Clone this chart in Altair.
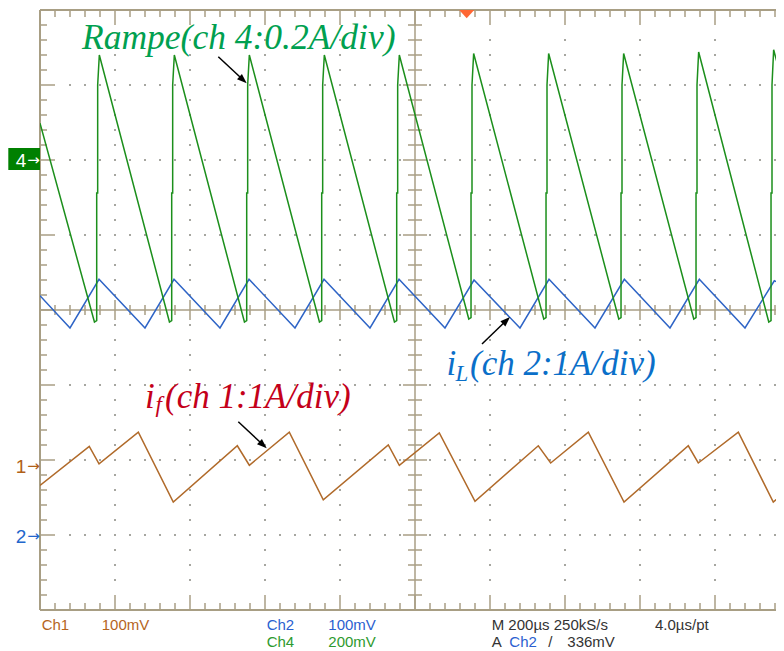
import altair as alt
import pandas as pd

# ---------------- data (read from the screen, in divisions) ----------------
# x: horizontal divisions from left edge (200 us/div), y: vertical divisions from centre
ramp_x = [0.000, 0.726, 0.756, 0.756, 0.769, 0.769, 0.791,
          1.726, 1.756, 1.756, 1.769, 1.769, 1.791,
          2.726, 2.756, 2.756, 2.769, 2.769, 2.791,
          3.726, 3.756, 3.756, 3.769, 3.769, 3.791,
          4.726, 4.756, 4.756, 4.769, 4.769, 4.791,
          5.717, 5.747, 5.747, 5.760, 5.760, 5.782,
          6.717, 6.747, 6.747, 6.760, 6.760, 6.782,
          7.717, 7.747, 7.747, 7.760, 7.760, 7.782,
          8.717, 8.747, 8.747, 8.760, 8.760, 8.782,
          9.717, 9.747, 9.747, 9.760, 9.760, 9.782, 9.930]
ramp_y = [2.49, -0.16, -0.14, 1.56, 1.56, 3.00, 3.40,
          -0.16, -0.14, 1.56, 1.56, 3.00, 3.40,
          -0.16, -0.14, 1.56, 1.56, 3.00, 3.40,
          -0.16, -0.14, 1.56, 1.56, 3.00, 3.40,
          -0.16, -0.14, 1.56, 1.56, 3.00, 3.40,
          -0.12, -0.10, 1.56, 1.56, 3.00, 3.42,
          -0.12, -0.10, 1.56, 1.56, 3.00, 3.42,
          -0.12, -0.10, 1.56, 1.56, 3.00, 3.42,
          -0.12, -0.10, 1.56, 1.56, 3.00, 3.44,
          -0.16, -0.14, 1.56, 1.56, 3.00, 3.47, 2.91]

il_x = [0.000, 0.400, 0.787, 1.400, 1.787, 2.400, 2.787, 3.400, 3.787, 4.400, 4.787,
        5.400, 5.787, 6.400, 6.787, 7.400, 7.791, 8.400, 8.791, 9.400, 9.791, 9.930]
il_y = [0.19, -0.24, 0.41, -0.24, 0.41, -0.24, 0.41, -0.24, 0.41, -0.24, 0.41,
        -0.24, 0.40, -0.24, 0.41, -0.24, 0.41, -0.24, 0.41, -0.24, 0.39, 0.33]

if_x = [0.000, 0.657, 0.787, 1.311, 1.777, 2.631, 2.791, 3.324, 3.777, 4.644, 4.791,
        5.324, 5.800, 6.644, 6.809, 7.311, 7.787, 8.644, 8.777, 9.311, 9.777, 9.930]
if_y = [-2.34, -1.82, -2.05, -1.63, -2.56, -1.81, -2.07, -1.63, -2.53, -1.80, -2.07,
        -1.64, -2.55, -1.81, -2.04, -1.63, -2.56, -1.81, -2.04, -1.63, -2.56, -2.43]

bottom_labels = ["Ch1", "100mV", "Ch2", "100mV", "Ch4", "200mV",
                 "M 200µs 250kS/s", "4.0µs/pt", "A", "Ch2", "/", "336mV"]

# ---------------- styling ----------------
GRID = "#A89E84"
DOT = "#A0A09A"
C_GREEN = "#1C8F1C"
C_BLUE = "#2E64C6"
C_BROWN = "#B06A2A"
XMAX = 736 / 75
XS = alt.Scale(domain=[0, XMAX], nice=False, zero=False)
YS = alt.Scale(domain=[-4, 4], nice=False, zero=False)
dummy = pd.DataFrame({"a": [0]})


def rnd(v):
    return round(v, 4)


# graticule geometry (screen furniture, 75 px per division)
ypos = [rnd(-4 + 0.2 * k) for k in range(1, 40)]
xpos = [rnd(0.2 * k) for k in range(1, 50)]
is_major = lambda v: abs(v - round(v)) < 1e-6
minor_len, major_len = 7 / 75, 15 / 75

left_t = pd.DataFrame({"x": [0.0] * len(ypos),
                       "x2": [major_len if is_major(v) else minor_len for v in ypos],
                       "y": ypos})
top_t = pd.DataFrame({"x": xpos, "y": [4.0] * len(xpos),
                      "y2": [4 - (major_len if is_major(v) else minor_len) for v in xpos]})
bot_t = pd.DataFrame({"x": xpos, "y": [-4.0] * len(xpos),
                      "y2": [-4 + (major_len if is_major(v) else minor_len) for v in xpos]})

dots = []
for gx in [1, 2, 3, 4, 6, 7, 8, 9]:
    for k in range(-18, 19):
        v = rnd(0.2 * k)
        if v != 0:
            dots.append((gx, v))
for gy in [-3, -2, -1, 1, 2, 3]:
    for k in range(2, 50):
        v = rnd(0.2 * k)
        if v != 5 and not is_major(v):
            dots.append((v, gy))
dots_df = pd.DataFrame(dots, columns=["x", "y"])

cv_df = pd.DataFrame({"x": [5.0] * len(ypos), "y": ypos, "maj": [is_major(v) for v in ypos]})
cv_df = cv_df[cv_df.y != 0]
ch_df = pd.DataFrame({"x": xpos, "y": [0.0] * len(xpos), "maj": [is_major(v) for v in xpos]})
ch_df = ch_df[ch_df.x != 5]

layers = []

# border ticks
for df, vert in [(left_t, False), (top_t, True), (bot_t, True)]:
    if vert:
        layers.append(alt.Chart(df).mark_rule(color=GRID, strokeWidth=1.5).encode(
            x=alt.X("x:Q", scale=XS, axis=None), y=alt.Y("y:Q", scale=YS, axis=None), y2="y2:Q"))
    else:
        layers.append(alt.Chart(df).mark_rule(color=GRID, strokeWidth=1.5).encode(
            x=alt.X("x:Q", scale=XS, axis=None), x2="x2:Q", y=alt.Y("y:Q", scale=YS, axis=None)))

# dotted graticule
layers.append(alt.Chart(dots_df).mark_square(size=3.5, color=DOT, opacity=1).encode(
    x=alt.X("x:Q", scale=XS, axis=None), y=alt.Y("y:Q", scale=YS, axis=None)))

# border lines and centre cross
frame = pd.DataFrame({"x": [0, 0, 0, 5, 0], "x2": [XMAX, XMAX, 0, 5, XMAX],
                      "y": [4, -4, -4, -4, 0], "y2": [4, -4, 4, 4, 0],
                      "w": [2, 2, 2, 1.5, 1.5]})
layers.append(alt.Chart(frame).mark_rule(color=GRID).encode(
    x=alt.X("x:Q", scale=XS, axis=None), x2="x2:Q",
    y=alt.Y("y:Q", scale=YS, axis=None), y2="y2:Q",
    strokeWidth=alt.StrokeWidth("w:Q", scale=None, legend=None)))

for df, orient, smaj, smin in [(cv_df, "horizontal", 24, 14), (ch_df, "vertical", 20, 10)]:
    for flag, sz in [(True, smaj), (False, smin)]:
        layers.append(alt.Chart(df[df.maj == flag]).mark_tick(
            orient=orient, size=sz, thickness=1.5, color=GRID, opacity=1).encode(
            x=alt.X("x:Q", scale=XS, axis=None), y=alt.Y("y:Q", scale=YS, axis=None)))


def trace(xv, yv, color):
    df = pd.DataFrame({"x": xv, "y": yv, "i": list(range(len(xv)))})
    return alt.Chart(df).mark_line(color=color, strokeWidth=1.5, clip=True).encode(
        x=alt.X("x:Q", scale=XS, axis=None), y=alt.Y("y:Q", scale=YS, axis=None),
        order="i:Q")


layers += [trace(if_x, if_y, C_BROWN), trace(il_x, il_y, C_BLUE), trace(ramp_x, ramp_y, C_GREEN)]


def txt(s, x, y, size, color, font="Liberation Sans", style="normal",
        align="left", baseline="alphabetic"):
    return alt.Chart(dummy).mark_text(text=s, fontSize=size, color=color, font=font,
                                      fontStyle=style, align=align, baseline=baseline).encode(
        x=alt.value(x), y=alt.value(y))


def arrow(x1, y1, x2, y2, angle):
    shaft = alt.Chart(dummy).mark_rule(color="black", strokeWidth=1.5).encode(
        x=alt.value(x1), y=alt.value(y1),
        x2=alt.value(x1 + (x2 - x1) * 0.85), y2=alt.value(y1 + (y2 - y1) * 0.85))
    head = alt.Chart(dummy).mark_point(shape="M0,0 L0.8,2.2 L-0.8,2.2 Z", size=81,
                                       filled=True, color="black", opacity=1,
                                       angle=angle).encode(x=alt.value(x2), y=alt.value(y2))
    return [shaft, head]


SERIF = "Liberation Serif"
# annotations
layers.append(txt("Rampe(ch 4:0.2A/div)", 42, 38.5, 35.5, "#00A050", SERIF, "italic"))
layers.append(txt("i", 406.5, 365, 35, "#0A6FC9", SERIF, "italic"))
layers.append(txt("L", 415.5, 371, 23, "#0A6FC9", SERIF, "italic"))
layers.append(txt("(ch 2:1A/div)", 430, 365, 35, "#0A6FC9", SERIF, "italic"))
layers.append(txt("i", 105, 397.5, 35, "#C4001A", SERIF, "italic"))
layers.append(txt("f", 115.5, 402, 23, "#C4001A", SERIF, "italic"))
layers.append(txt("(ch 1:1A/div)", 125, 397.5, 35, "#C4001A", SERIF, "italic"))

layers += arrow(178.3, 46.7, 206.7, 73.3, 133)
layers += arrow(442, 334, 470, 307, 46)
layers += arrow(198.3, 411.7, 226.7, 438.3, 133)

# channel markers on the left
layers.append(alt.Chart(dummy).mark_rect(color="#008000").encode(
    x=alt.value(-31.7), x2=alt.value(0), y=alt.value(138), y2=alt.value(160)))
layers.append(txt("4", -19, 156.5, 19, "white", align="center"))
layers.append(txt("→", -6.5, 149.5, 15, "white", "DejaVu Sans", align="center", baseline="middle"))
layers.append(txt("1", -19, 463, 19, "#B06018", align="center"))
layers.append(txt("→", -6.5, 456, 15, "#B06018", "DejaVu Sans", align="center", baseline="middle"))
layers.append(txt("2", -19, 533, 19, "#2266CC", align="center"))
layers.append(txt("→", -6.5, 526, 15, "#2266CC", "DejaVu Sans", align="center", baseline="middle"))

# trigger markers
layers.append(alt.Chart(dummy).mark_point(shape="M-1,-0.55 L1,-0.55 L0,0.55 Z", size=225,
                                          filled=True, color="#FF6633", opacity=1).encode(
    x=alt.value(426.7), y=alt.value(4.2)))

# status line at the bottom
BROWN_T, BLUE_T, GREEN_T, DARK_T = "#B5651D", "#2B5FD0", "#2E9A2E", "#333333"
status = [
    (bottom_labels[0], 1.7, 619.5, BROWN_T), (bottom_labels[1], 61.7, 619.5, BROWN_T),
    (bottom_labels[2], 226.7, 619.5, BLUE_T), (bottom_labels[3], 288.3, 619.5, BLUE_T),
    (bottom_labels[4], 226.7, 637.3, GREEN_T), (bottom_labels[5], 288.3, 637.3, GREEN_T),
    (bottom_labels[6], 451.7, 619.5, DARK_T), (bottom_labels[7], 615, 619.5, DARK_T),
    (bottom_labels[8], 451.7, 637.3, DARK_T), (bottom_labels[9], 469.3, 637.3, BLUE_T),
    (bottom_labels[10], 508.3, 637.3, DARK_T), (bottom_labels[11], 527.3, 637.3, DARK_T),
]
for s, x, y, c in status:
    layers.append(txt(s, x, y, 15, c))

chart = alt.layer(*layers).properties(
    width=736, height=600,
    padding={"left": 32, "top": 2, "right": 0, "bottom": 41},
    autosize=alt.AutoSizeParams(type="none"),
    background="white",
).configure_view(strokeWidth=0)

chart.save("out.html", embed_options={"renderer": "svg", "actions": False})
